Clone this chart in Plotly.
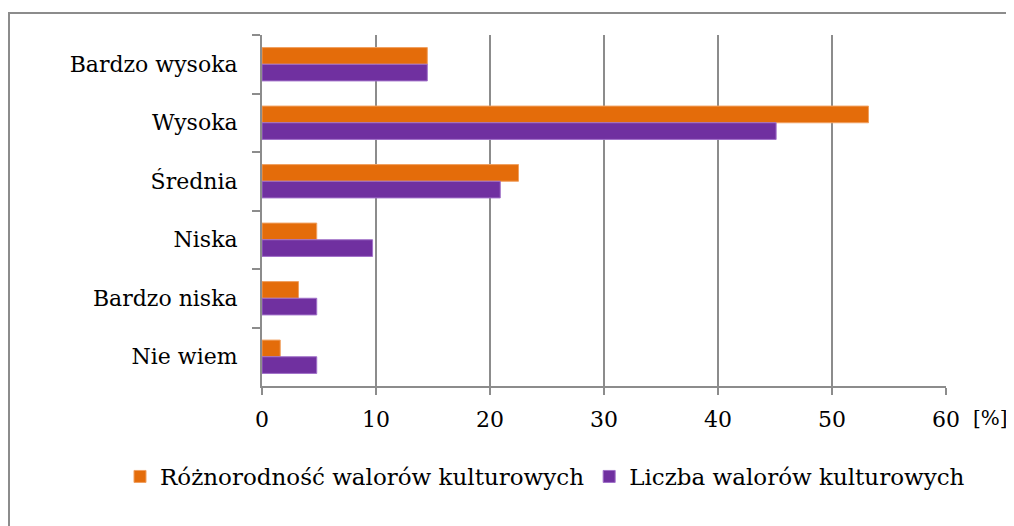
import plotly.graph_objects as go

categories = ["Bardzo wysoka", "Wysoka", "Średnia", "Niska", "Bardzo niska", "Nie wiem"]
roznorodnosc = [14.5, 53.2, 22.5, 4.8, 3.2, 1.6]
liczba = [14.5, 45.1, 20.9, 9.7, 4.8, 4.8]
series_names = ["Różnorodność walorów kulturowych", "Liczba walorów kulturowych"]
x_ticks = [0, 10, 20, 30, 40, 50, 60]

FONT = "DejaVu Serif"
FS = 22
OFF = 8  # page body margin
W, H = 1014 - OFF, 526 - OFF
ML, MT = 262 - OFF, 35 - OFF
PW = 946 - 262
PH = 386 - 35
MR = W - ML - PW
MB = H - MT - PH


def px_x(x):
    return (x - OFF - ML) / PW


def px_y(y):
    return 1 - (y - OFF - MT) / PH


fig = go.Figure()
fig.add_trace(go.Bar(y=categories, x=roznorodnosc, orientation="h", name=series_names[0],
                     marker=dict(color="#E46C0A", line=dict(color="#F0A060", width=1))))
fig.add_trace(go.Bar(y=categories, x=liczba, orientation="h", name=series_names[1],
                     marker=dict(color="#7030A0", line=dict(color="#A070C8", width=1))))

# outer border (extends beyond the right and bottom edges)
fig.add_shape(type="rect", xref="paper", yref="paper",
              x0=px_x(9), x1=px_x(1040), y0=px_y(560), y1=px_y(13),
              line=dict(color="#8c8c8c", width=2), fillcolor="rgba(0,0,0,0)", layer="below")

fig.add_annotation(text="[%]", xref="paper", yref="paper", x=px_x(990), y=px_y(418),
                   showarrow=False, font=dict(family=FONT, size=FS - 2, color="black"),
                   xanchor="center", yanchor="middle")

fig.update_layout(
    width=W, height=H,
    margin=dict(l=ML, r=MR, t=MT, b=MB),
    paper_bgcolor="white", plot_bgcolor="white",
    barmode="group", bargap=0.43, bargroupgap=0,
    font=dict(family=FONT, size=FS, color="black"),
    showlegend=True,
    legend=dict(orientation="h", x=px_x(120), y=px_y(455),
                xanchor="left", yanchor="top", font=dict(family=FONT, size=FS + 1),
                traceorder="normal", itemwidth=30),
    xaxis=dict(range=[0, 60], tickvals=x_ticks, ticktext=[str(v) for v in x_ticks],
               showgrid=True, gridcolor="#8c8c8c", gridwidth=2,
               showline=True, linecolor="#8c8c8c", linewidth=2,
               ticks="outside", ticklen=7, tickwidth=2, tickcolor="#8c8c8c",
               zeroline=False, ticklabelstandoff=6, fixedrange=True),
    yaxis=dict(autorange="reversed", showline=True, linecolor="#8c8c8c", linewidth=2,
               ticks="outside", ticklen=8, tickwidth=2, tickcolor="#8c8c8c",
               tickson="boundaries", showgrid=False, ticklabelstandoff=18, fixedrange=True),
)

fig.write_html("out.html")
